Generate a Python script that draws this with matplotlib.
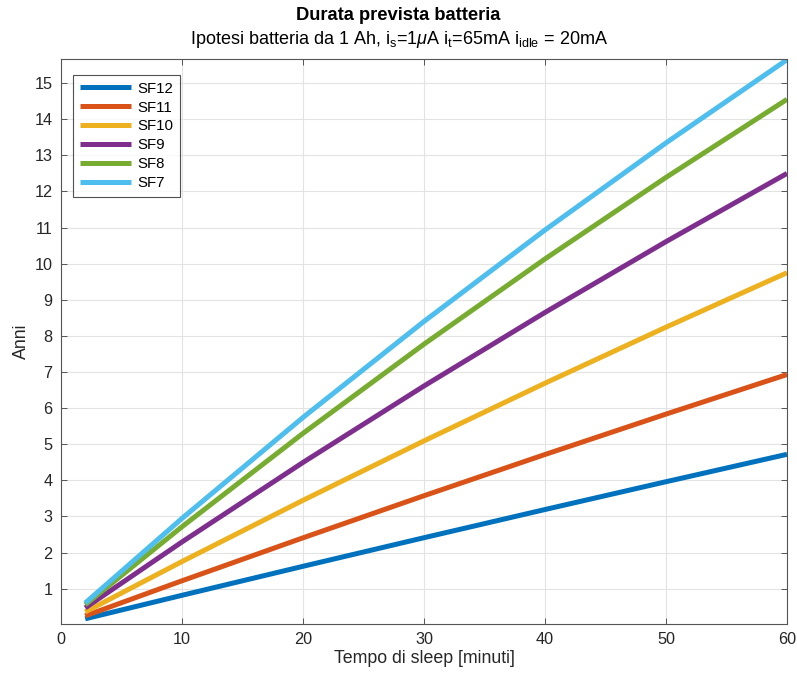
import matplotlib
matplotlib.use("Agg")
import matplotlib.pyplot as plt

plt.rcParams['font.family'] = ['Liberation Sans', 'DejaVu Sans']
plt.rcParams['mathtext.fontset'] = 'custom'
plt.rcParams['mathtext.rm'] = 'Liberation Sans'
plt.rcParams['mathtext.it'] = 'Liberation Sans:italic'
plt.rcParams['mathtext.bf'] = 'Liberation Sans:bold'

# Sleep time [minutes]
sleep_min = [2, 10, 20, 30, 40, 50, 60]

# Battery life [years]
sf12 = [0.164, 0.815, 1.618, 2.410, 3.191, 3.961, 4.720]
sf11 = [0.245, 1.217, 2.407, 3.573, 4.715, 5.834, 6.930]
sf10 = [0.354, 1.750, 3.446, 5.092, 6.690, 8.242, 9.750]
sf9 = [0.466, 2.293, 4.495, 6.613, 8.650, 10.611, 12.501]
sf8 = [0.553, 2.714, 5.301, 7.771, 10.132, 12.390, 14.552]
sf7 = [0.601, 2.945, 5.742, 8.401, 10.933, 13.346, 15.650]

labels = ['SF12', 'SF11', 'SF10', 'SF9', 'SF8', 'SF7']
series = [sf12, sf11, sf10, sf9, sf8, sf7]
colors = ['#0072BD', '#D95319', '#EDB120', '#7E2F8E', '#77AC30', '#4DBEEE']

xticks = [0, 10, 20, 30, 40, 50, 60]
yticks = list(range(1, 16))

fig = plt.figure(figsize=(7.97, 6.75), dpi=100)
ax = fig.add_axes([61/797, 1 - 624/675, (787 - 61)/797, (624 - 59)/675])

for lab, ys, c in zip(labels, series, colors):
    ax.plot(sleep_min, ys, color=c, lw=3.6, label=lab, solid_capstyle='butt')

ax.set_xlim(0, 60)
ax.set_ylim(0.02, 15.67)
ax.set_xticks(xticks)
ax.set_yticks(yticks)

ax.grid(True, color='#e3e3e3', lw=0.8)
ax.set_axisbelow(True)
for sp in ax.spines.values():
    sp.set_color('#555555')
    sp.set_linewidth(0.8)
ax.tick_params(direction='in', top=True, right=True, length=4, width=0.7,
               color='#555555', labelsize=11.7, labelcolor='#262626', pad=6)

ax.set_xlabel('Tempo di sleep [minuti]', fontsize=12.8, color='#262626', labelpad=2)
ax.set_ylabel('Anni', fontsize=12.8, color='#262626', labelpad=3)

fig.text(0.5, 1 - 16/675, 'Durata prevista batteria', ha='center', va='center',
         fontsize=13.2, fontweight='bold', color='black')
fig.text(0.5, 1 - 40/675,
         r'Ipotesi batteria da 1 Ah, i$_\mathrm{s}$=1$\mathit{\mu}$A i$_\mathrm{t}$=65mA i$_\mathrm{idle}$ = 20mA',
         ha='center', va='center', fontsize=13, color='black')

leg = ax.legend(loc='upper left', bbox_to_anchor=(0.017, 0.972), fontsize=10.8,
                frameon=True, fancybox=False, handlelength=3.4, handletextpad=0.4,
                labelspacing=0.33, borderpad=0.45, borderaxespad=0)
leg.get_frame().set_edgecolor('#262626')
leg.get_frame().set_linewidth(0.8)

fig.savefig('out.png', dpi=100)
